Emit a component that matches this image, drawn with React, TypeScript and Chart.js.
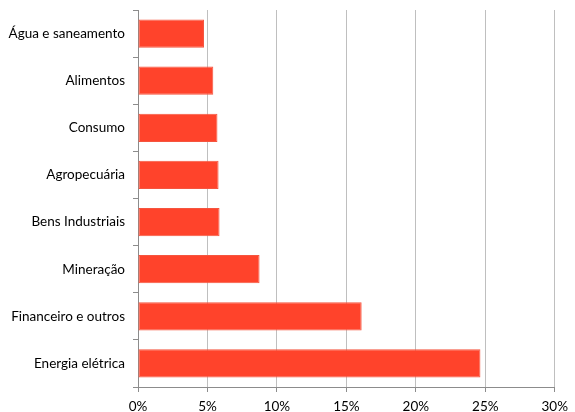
import React, { useEffect, useRef } from "react";
import { Chart, registerables } from "chart.js";

Chart.register(...registerables);

const categories = [
  "Água e saneamento",
  "Alimentos",
  "Consumo",
  "Agropecuária",
  "Bens Industriais",
  "Mineração",
  "Financeiro e outros",
  "Energia elétrica",
];
const values = [4.75, 5.42, 5.72, 5.8, 5.87, 8.75, 16.1, 24.65];
const xTicks = [0, 5, 10, 15, 20, 25, 30];

export default function App() {
  const ref = useRef<HTMLCanvasElement | null>(null);
  useEffect(() => {
    document.body.style.margin = "0";
    const ctx = ref.current!;
    const chart = new Chart(ctx, {
      type: "bar",
      data: {
        labels: categories,
        datasets: [
          {
            data: values,
            backgroundColor: "#FF432B",
            borderColor: "#F5553F",
            borderWidth: 1,
            borderSkipped: false,
            barPercentage: 0.6,
            categoryPercentage: 1,
          },
        ],
      },
      options: {
        indexAxis: "y",
        animation: false,
        responsive: false,
        maintainAspectRatio: false,
        layout: { padding: { left: 0, right: 20, top: 10, bottom: 0 } },
        plugins: { legend: { display: false }, tooltip: { enabled: false } },
        scales: {
          x: {
            min: 0,
            max: 30,
            afterBuildTicks: (s: any) => {
              s.ticks = xTicks.map((v) => ({ value: v }));
            },
            afterFit: (s: any) => {
              s.height = 25;
            },
            ticks: {
              callback: (v: any) => v + "%",
              color: "#000",
              font: { family: "Lato", size: 13.5 },
              padding: 7,
              maxRotation: 0,
            },
            grid: {
              color: "#BFBFBF",
              lineWidth: 1,
              tickLength: 5,
              tickColor: "#8C8C8C",
            },
            border: { color: "#8C8C8C", width: 1 },
          },
          y: {
            afterFit: (s: any) => {
              s.width = 138;
              s.paddingTop = 0;
              s.paddingBottom = 0;
            },
            ticks: {
              color: "#000",
              font: { family: "Lato", size: 13.5 },
              padding: 8,
            },
            grid: {
              offset: true,
              drawOnChartArea: false,
              tickLength: 5,
              tickColor: "#8C8C8C",
            },
            border: { color: "#8C8C8C", width: 1 },
          },
        },
      },
    });
    return () => chart.destroy();
  }, []);
  return (
    <div style={{ width: 575, height: 412 }}>
      <canvas ref={ref} width={575} height={412} style={{ width: 575, height: 412 }} />
    </div>
  );
}
